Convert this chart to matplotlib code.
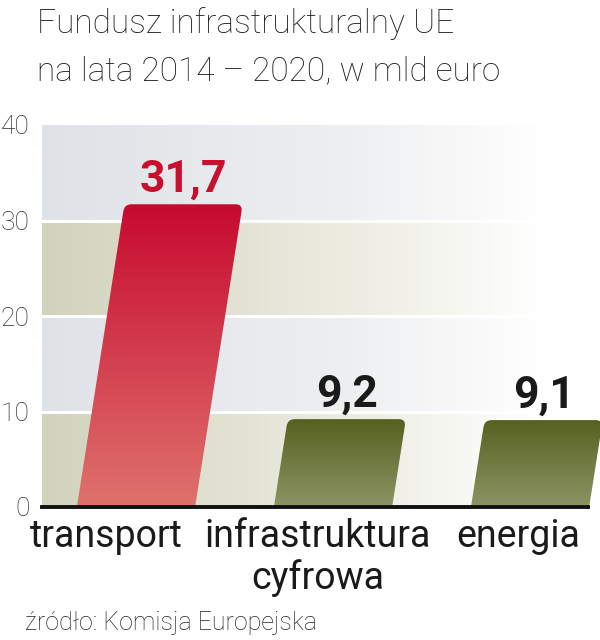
import matplotlib.pyplot as plt
import numpy as np
from matplotlib.path import Path
from matplotlib.patches import PathPatch
from matplotlib.colors import LinearSegmentedColormap

plt.rcParams['font.family'] = ['Roboto', 'DejaVu Sans']

categories = ["transport", "infrastruktura\ncyfrowa", "energia"]
values = [31.7, 9.2, 9.1]
value_labels = ["31,7", "9,2", "9,1"]
yticks = [0, 10, 20, 30, 40]
title_lines = ["Fundusz infrastrukturalny UE", "na lata 2014 \u2013 2020, w mld euro"]
source = "źródło: Komisja Europejska"

# colours (top, bottom) of each bar
bar_colors = [("#c70a30", "#df726d"), ("#56611f", "#8d9465"), ("#56611f", "#8d9465")]
label_colors = ["#c8102e", "#1a1a1a", "#1a1a1a"]
band_colors = ["#d2d3bc", "#dfe2e7"]

W, H = 600, 640
fig = plt.figure(figsize=(W / 100, H / 100), dpi=100)
ax_left, ax_right, ax_top, ax_bottom = 42, 600, 125, 507
ax = fig.add_axes([ax_left / W, 1 - ax_bottom / H,
                   (ax_right - ax_left) / W, (ax_bottom - ax_top) / H])

xmin, xmax = -0.477, 2.355
ax.set_xlim(xmin, xmax)
ax.set_ylim(0, 40)

# pixel -> data conversions
px_x = (xmax - xmin) / (ax_right - ax_left)
px_y = 40 / (ax_bottom - ax_top)

# background bands fading to white on the right
for k in range(4):
    c = band_colors[k % 2]
    mid = "#eeeff1" if k % 2 else "#ecece2"
    cmap = LinearSegmentedColormap.from_list("band", [(0, c), (0.55, mid), (0.9, "white"), (1, "white")])
    grad = np.linspace(0, 1, 256).reshape(1, -1)
    ax.imshow(grad, cmap=cmap, aspect="auto", extent=(xmin, xmax, k * 10, k * 10 + 10),
              origin="lower", zorder=0, interpolation="bilinear")

for t in yticks[1:-1]:
    ax.axhline(t, color="white", lw=2.2, zorder=1)

bar_w = 0.6
slant = 1.5 * px_x  # horizontal shift per unit of value
r = 7
rx, ry = r * px_x, r * px_y

for i, v in enumerate(values):
    x0 = i - bar_w / 2
    tl = (x0 + slant * v, v)
    tr = (x0 + bar_w + slant * v, v)
    verts = [(x0, 0), (x0 + bar_w, 0),
             (x0 + bar_w + slant * (v - ry), v - ry), tr, (tr[0] - rx, v),
             (tl[0] + rx, v), tl, (x0 + slant * (v - ry), v - ry),
             (x0, 0)]
    codes = [Path.MOVETO, Path.LINETO, Path.LINETO, Path.CURVE3, Path.CURVE3,
             Path.LINETO, Path.CURVE3, Path.CURVE3, Path.CLOSEPOLY]
    patch = PathPatch(Path(verts, codes), facecolor="none", edgecolor="none", zorder=2)
    ax.add_patch(patch)
    top_c, bot_c = bar_colors[i]
    cmap = LinearSegmentedColormap.from_list("bar", [bot_c, top_c])
    grad = np.linspace(0, 1, 256).reshape(-1, 1)
    im = ax.imshow(grad, cmap=cmap, aspect="auto", origin="lower",
                   extent=(x0, tr[0], 0, v), zorder=2, interpolation="bilinear")
    im.set_clip_path(patch)
    ax.annotate(value_labels[i], (x0 + bar_w / 2 + slant * v, v), xytext=(0, 9),
                textcoords="offset points", ha="center", va="baseline",
                fontsize=32, fontweight="bold", color=label_colors[i], zorder=3)

ax.axhline(0, xmin=0, xmax=(588 - ax_left) / (ax_right - ax_left), color="#111111", lw=2.8, zorder=4, clip_on=False)

for s in ax.spines.values():
    s.set_visible(False)
ax.set_yticks(yticks)
ax.set_yticklabels([str(t) for t in yticks], fontsize=19, color="#333333", fontweight="light")
ax.tick_params(axis="y", length=0, pad=9)
ax.set_xticks([])

label_shift = [-0.15, -0.08, -0.06]
for i, c in enumerate(categories):
    ax.text(i + label_shift[i], -1.2, c, ha="center", va="top", fontsize=27,
            color="#1a1a1a", linespacing=1.13)

fig.text(37 / W, 1 - 33 / H, title_lines[0], ha="left", va="baseline", fontsize=24,
         fontweight="light", color="#1e1e1e")
fig.text(37 / W, 1 - 80 / H, title_lines[1], ha="left", va="baseline", fontsize=24,
         fontweight="light", color="#1e1e1e")
fig.text(25 / W, 1 - 630 / H, source, ha="left", va="baseline", fontsize=18,
         fontweight="light", color="#222222")

fig.savefig("out.png", dpi=100)
